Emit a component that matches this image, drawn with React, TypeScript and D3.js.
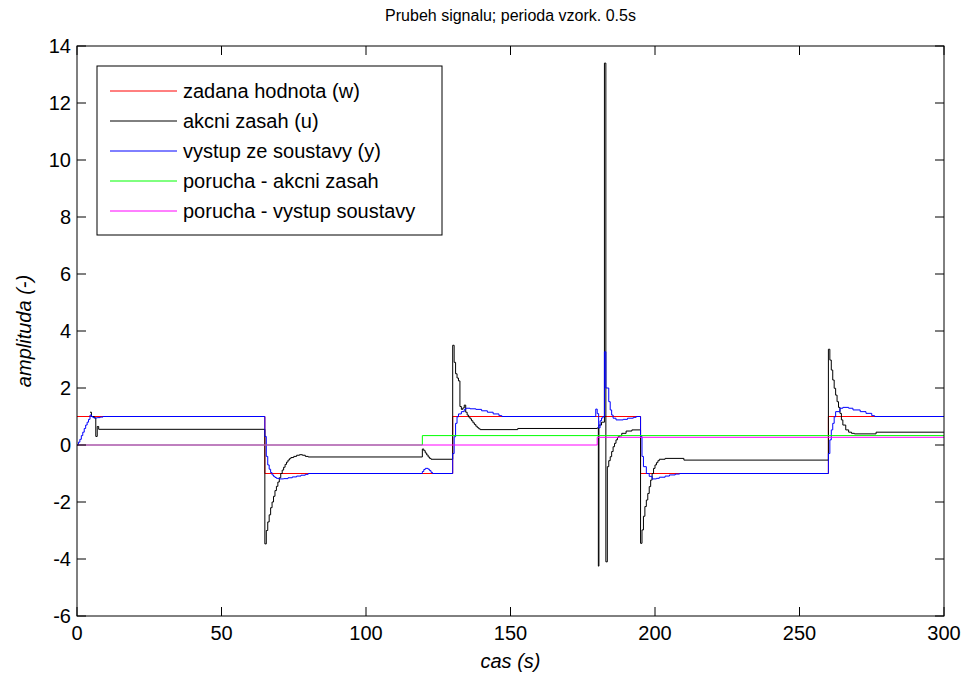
import React, { useEffect, useRef } from "react";
import * as d3 from "d3";

const titleText = "Prubeh signalu; perioda vzork. 0.5s";
const xLabel = "cas (s)";
const yLabel = "amplituda (-)";
const xTicks = [0, 50, 100, 150, 200, 250, 300];
const yTicks = [-6, -4, -2, 0, 2, 4, 6, 8, 10, 12, 14];

// setpoint w (step-after)
const wData: [number, number][] = [
  [0, 1], [65, -1], [130, 1], [195, -1], [260, 1], [300, 1],
];

// control action u (step-after)
const uData: [number, number][] = [
  [4.5, 1.15], [5, 1.0], [6, 0.95], [6.5, 0.3], [7, 0.65], [7.5, 0.55],
  [65, -3.47], [65.5, -3.0], [66, -2.7], [66.5, -2.45], [67, -2.2], [67.5, -2.0], [68, -1.8], [68.5, -1.6],
  [69, -1.45], [69.5, -1.3], [70, -1.15], [70.5, -1.0], [71, -0.88], [71.5, -0.78], [72, -0.68], [72.5, -0.6],
  [73, -0.53], [73.5, -0.48], [74, -0.44], [75, -0.4], [76, -0.36], [77, -0.34], [78, -0.36], [79, -0.4], [80, -0.42],
  [119.5, -0.14], [120, -0.2], [120.5, -0.28], [121, -0.35], [121.5, -0.42], [122, -0.47], [122.5, -0.5],
  [130, 3.5], [130.5, 2.9], [131, 2.5], [131.5, 2.35], [132, 2.25], [132.5, 1.35], [133, 1.25], [133.5, 1.3],
  [134, 1.4], [134.5, 1.15], [135, 1.05], [135.5, 0.98], [136, 0.92], [136.5, 0.85], [137, 0.78], [137.5, 0.72],
  [138, 0.66], [138.5, 0.61], [139, 0.57], [139.5, 0.54], [152.5, 0.58],
  [180, 0.6], [180.4, -4.25], [180.6, 0.7], [181.5, 0.8], [182.5, 13.4], [183, -4.1], [183.5, -0.76], [184, -0.55],
  [184.5, -0.41], [185, -0.23], [185.5, -0.06], [186, 0.06], [186.5, 0.18], [187, 0.27], [187.5, 0.32],
  [188.5, 0.41], [190, 0.49], [192, 0.53],
  [195, -3.45], [195.5, -2.98], [196, -2.5], [196.5, -2.16], [197, -1.93], [197.5, -1.7], [198, -1.46],
  [198.5, -1.23], [199, -1.0], [199.5, -0.82], [200, -0.7], [200.5, -0.62], [201, -0.55], [201.5, -0.5],
  [203.5, -0.47], [210, -0.53],
  [260, 3.36], [260.5, 2.98], [261, 2.63], [261.5, 2.28], [262, 1.99], [262.5, 1.75], [263, 1.52], [263.5, 1.32],
  [264, 1.11], [264.5, 0.88], [265, 0.7], [266, 0.53], [267, 0.45], [268, 0.41], [269, 0.39], [276.5, 0.45], [300, 0.45],
];

// plant output y (step-after)
const yData: [number, number][] = [
  [0, 0], [0.5, 0.1], [1, 0.2], [1.5, 0.33], [2, 0.45], [2.5, 0.58], [3, 0.7], [3.5, 0.8], [4, 0.9], [4.5, 1.05],
  [5, 1.0], [5.5, 0.96], [6, 0.95], [7, 0.96], [8, 0.98], [9, 1.0],
  [65, 0.3], [65.5, -0.4], [66, -0.7], [66.5, -0.85], [67, -0.97], [67.5, -1.05], [68, -1.1], [68.5, -1.14],
  [69, -1.17], [70, -1.19], [71.5, -1.18], [73, -1.15], [74.5, -1.12], [76, -1.09], [77.5, -1.06], [79, -1.03], [80, -1.0],
  [119.5, -0.93], [120, -0.86], [120.5, -0.82], [121.5, -0.85], [122, -0.9], [122.5, -0.96], [123, -1.0],
  [130, -0.3], [130.5, 0.29], [131, 0.76], [131.5, 0.99], [132, 1.09], [133, 1.17], [134, 1.25], [134.5, 1.29],
  [136, 1.27], [138, 1.25], [140, 1.2], [142, 1.15], [144, 1.09], [146, 1.03], [147, 1.0],
  [179.5, 1.26], [180, 1.1], [180.5, 0.6], [181, 0.85], [181.5, 0.95], [182, 1.0], [182.5, 3.27], [183, 2.0],
  [184, 1.52], [184.5, 1.23], [185, 1.05], [185.5, 0.94], [186.5, 0.88], [189, 0.9], [190.5, 0.94], [192.5, 0.97], [193.5, 1.0],
  [195, 0.3], [195.5, -0.4], [196, -0.76], [197, -1.0], [198, -1.1], [199, -1.19], [200.5, -1.17], [201.5, -1.13],
  [203.5, -1.09], [205, -1.05], [207, -1.02], [208.5, -1.0],
  [260, -0.3], [260.5, 0.18], [261, 0.53], [261.5, 0.76], [262, 0.99], [262.5, 1.17], [264, 1.29], [265, 1.32],
  [267, 1.29], [268.5, 1.23], [271, 1.17], [273, 1.11], [275, 1.03], [276, 1.0], [300, 1.0],
];

// disturbance on control action (step-after)
const duData: [number, number][] = [[0, 0], [119.5, 0.33], [300, 0.33]];
// disturbance on plant output (step-after)
const dyData: [number, number][] = [[0, 0], [180, 0.27], [300, 0.27]];

const seriesNames = [
  "zadana hodnota (w)",
  "akcni zasah (u)",
  "vystup ze soustavy (y)",
  "porucha - akcni zasah",
  "porucha - vystup soustavy",
];
const seriesColors = ["#ff0000", "#000000", "#0000ff", "#00ff00", "#ff00ff"];
const seriesData = [wData, uData, yData, duData, dyData];

const FONT = "'Liberation Sans', Arial, Helvetica, sans-serif";

export default function App() {
  const ref = useRef<SVGSVGElement>(null);
  useEffect(() => {
    const svg = d3.select(ref.current);
    svg.selectAll("*").remove();
    const left = 77, right = 944, top = 46, bottom = 616;
    const x = d3.scaleLinear().domain([0, 300]).range([left, right]);
    const y = d3.scaleLinear().domain([-6, 14]).range([bottom, top]);

    svg.append("rect").attr("x", 0).attr("y", 0).attr("width", 968).attr("height", 675).attr("fill", "#fff");

    const plot = svg.append("g");
    const clip = svg.append("clipPath").attr("id", "pclip");
    clip.append("rect").attr("x", left).attr("y", top).attr("width", right - left).attr("height", bottom - top);

    const line = d3.line<[number, number]>().x(d => x(d[0])).y(d => y(d[1])).curve(d3.curveStepAfter);
    seriesData.forEach((data, i) => {
      plot.append("path")
        .attr("d", line(data) as string)
        .attr("fill", "none")
        .attr("stroke", seriesColors[i])
        .attr("stroke-width", 1)
        .attr("clip-path", "url(#pclip)");
    });

    // axes box
    svg.append("rect").attr("x", left).attr("y", top).attr("width", right - left).attr("height", bottom - top)
      .attr("fill", "none").attr("stroke", "#000").attr("stroke-width", 1);

    const tl = 9;
    const g = svg.append("g").attr("font-family", FONT).attr("font-size", 20).attr("fill", "#000");
    xTicks.forEach(t => {
      const px = x(t);
      g.append("line").attr("x1", px).attr("x2", px).attr("y1", bottom).attr("y2", bottom - tl).attr("stroke", "#000");
      g.append("line").attr("x1", px).attr("x2", px).attr("y1", top).attr("y2", top + tl).attr("stroke", "#000");
      g.append("text").attr("x", px).attr("y", bottom + 24).attr("text-anchor", "middle").text(String(t));
    });
    yTicks.forEach(t => {
      const py = y(t);
      g.append("line").attr("x1", left).attr("x2", left + tl).attr("y1", py).attr("y2", py).attr("stroke", "#000");
      g.append("line").attr("x1", right).attr("x2", right - tl).attr("y1", py).attr("y2", py).attr("stroke", "#000");
      g.append("text").attr("x", left - 6).attr("y", py + 7).attr("text-anchor", "end").text(String(t));
    });

    g.append("text").attr("x", (left + right) / 2).attr("y", 21).attr("text-anchor", "middle").attr("font-size", 16).text(titleText);
    g.append("text").attr("x", (left + right) / 2).attr("y", 668).attr("text-anchor", "middle").attr("font-style", "italic").text(xLabel);
    g.append("text").attr("transform", `translate(31,${(top + bottom) / 2}) rotate(-90)`).attr("text-anchor", "middle")
      .attr("font-style", "italic").text(yLabel);

    // legend
    const lx = 97, ly = 66, lw = 345, lh = 169;
    const lg = svg.append("g").attr("font-family", FONT).attr("font-size", 20);
    lg.append("rect").attr("x", lx).attr("y", ly).attr("width", lw).attr("height", lh)
      .attr("fill", "#fff").attr("stroke", "#000").attr("stroke-width", 1);
    seriesNames.forEach((name, i) => {
      const cy = ly + 25 + i * 30;
      lg.append("line").attr("x1", lx + 13).attr("x2", lx + 80).attr("y1", cy).attr("y2", cy)
        .attr("stroke", seriesColors[i]).attr("stroke-width", 1);
      lg.append("text").attr("x", lx + 86).attr("y", cy + 7).attr("fill", "#000").text(name);
    });
  }, []);
  return (
    <svg ref={ref} width={968} height={675} style={{ position: "absolute", left: 0, top: 0, display: "block" }} />
  );
}
